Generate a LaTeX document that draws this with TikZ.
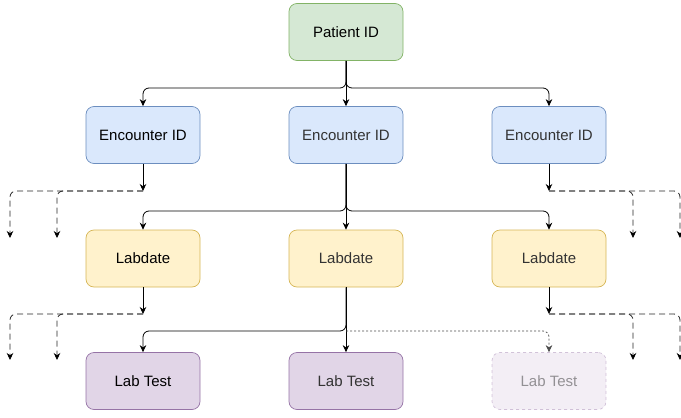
\documentclass[tikz,border=0pt]{standalone}
\usepackage{fontspec}
\setmainfont{Liberation Sans}
\usetikzlibrary{arrows.meta}
\definecolor{gfill}{HTML}{D5E8D4}\definecolor{gdraw}{HTML}{82B366}
\definecolor{bfill}{HTML}{DAE8FC}\definecolor{bdraw}{HTML}{6C8EBF}
\definecolor{yfill}{HTML}{FFF2CC}\definecolor{ydraw}{HTML}{D6B656}
\definecolor{pfill}{HTML}{E1D5E7}\definecolor{pdraw}{HTML}{9673A6}
\definecolor{txtgray}{HTML}{333333}
\begin{document}
\begin{tikzpicture}[x=1pt,y=-1pt,
  box/.style={rounded corners=8pt,minimum width=114pt,minimum height=57pt,inner sep=0pt,font=\fontsize{15}{17}\selectfont,line width=0.7pt},
  green/.style={box,fill=gfill,draw=gdraw},
  blue/.style={box,fill=bfill,draw=bdraw},
  yel/.style={box,fill=yfill,draw=ydraw},
  purp/.style={box,fill=pfill,draw=pdraw},
  arr/.style={draw,line width=0.8pt,rounded corners=6pt,-{Stealth[length=7pt,width=6.5pt]}},
  darr/.style={arr,dash pattern=on 6pt off 4pt,draw=black!85,-{Stealth[length=7pt,width=6.5pt,color=black]}},
  dotarr/.style={arr,dash pattern=on 2pt off 2pt,draw=black!70,line width=0.7pt,-{Stealth[length=7pt,width=6.5pt,color=black!70]}}]
\useasboundingbox (0,0) rectangle (681,418);
\node[green] (p) at (346,32) {Patient ID};
\node[blue] (e1) at (143,135) {Encounter ID};
\node[blue,text=txtgray] (e2) at (346,135) {Encounter ID};
\node[blue,text=txtgray] (e3) at (549,135) {Encounter ID};
\node[yel] (l1) at (143,258.5) {Labdate};
\node[yel,text=txtgray] (l2) at (346,258.5) {Labdate};
\node[yel,text=txtgray] (l3) at (549,258.5) {Labdate};
\node[purp] (t1) at (143,381) {Lab Test};
\node[purp,text=txtgray] (t2) at (346,381) {Lab Test};
\node[box,fill=pfill,draw=pdraw,dashed,opacity=0.4,text opacity=0.5,text=txtgray] (t3) at (549,381) {Lab Test};
% Patient -> Encounters
\coordinate (pj) at (346,88);
\draw[arr] (p.south) -- (pj) -| (e1.north);
\draw[arr] (p.south) -- (e2.north);
\draw[arr] (p.south) -- (pj) -| (e3.north);
% Encounter middle -> Labdates
\coordinate (ej) at (346,211);
\draw[arr] (e2.south) -- (ej) -| (l1.north);
\draw[arr] (e2.south) -- (l2.north);
\draw[arr] (e2.south) -- (ej) -| (l3.north);
% Encounter left/right stubs
\coordinate (e1s) at (143,191);
\coordinate (e3s) at (549,191);
\draw[arr] (e1.south) -- (e1s);
\draw[arr] (e3.south) -- (e3s);
\coordinate (a1) at (10,238); \coordinate (a2) at (57,238);
\coordinate (a3) at (633,238); \coordinate (a4) at (680,238);
\draw[darr] (e1s) -| (a1);
\draw[darr] (e1s) -| (a2);
\draw[darr] (e3s) -| (a3);
\draw[darr] (e3s) -| (a4);
% Labdate middle -> Lab Tests
\coordinate (lj) at (346,331);
\draw[arr] (l2.south) -- (lj) -| (t1.north);
\draw[arr] (l2.south) -- (t2.north);
\draw[dotarr] (lj) -| (t3.north);
% Labdate left/right stubs
\coordinate (l1s) at (143,314);
\coordinate (l3s) at (549,314);
\draw[arr] (l1.south) -- (l1s);
\draw[arr] (l3.south) -- (l3s);
\coordinate (b1) at (10,360); \coordinate (b2) at (57,360);
\coordinate (b3) at (633,360); \coordinate (b4) at (680,360);
\draw[darr] (l1s) -| (b1);
\draw[darr] (l1s) -| (b2);
\draw[darr] (l3s) -| (b3);
\draw[darr] (l3s) -| (b4);
\end{tikzpicture}
\end{document}
